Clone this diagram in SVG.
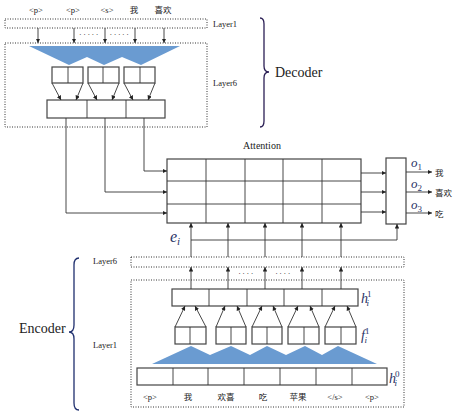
<svg xmlns="http://www.w3.org/2000/svg" width="459" height="416" viewBox="0 0 459 416">
<defs>
<marker id="ah" viewBox="0 0 6 6" refX="6" refY="3" markerWidth="4.5" markerHeight="4.5" markerUnits="userSpaceOnUse" orient="auto">
<path d="M0,0 L6,3 L0,6 z" fill="#222"/>
</marker>
<style>
.t{font-family:"Liberation Serif","Noto Sans CJK SC",serif;fill:#222;}
.sm{font-size:8.5px;}
.lb{font-size:14px;}
.m{font-family:"Liberation Serif",serif;font-style:italic;fill:#2a3366;}
.dot{fill:none;stroke:#333;stroke-width:1;stroke-dasharray:1 1.5;}
.box{fill:#fff;stroke:#444;stroke-width:1.2;}
.ln{fill:none;stroke:#333;stroke-width:0.9;}
.ar{fill:none;stroke:#333;stroke-width:0.9;marker-end:url(#ah);}
.blue{fill:#6a9bd1;}
.brace{fill:none;stroke-width:1.3;}
</style>
</defs>
<rect width="459" height="416" fill="#fff"/>

<g id="decoder">
<text class="t sm" x="36" y="13" text-anchor="middle">&lt;p&gt;</text>
<text class="t sm" x="73" y="13" text-anchor="middle">&lt;p&gt;</text>
<text class="t sm" x="107" y="13" text-anchor="middle">&lt;s&gt;</text>
<text class="t sm" x="134" y="13" text-anchor="middle">我</text>
<text class="t sm" x="163" y="13" text-anchor="middle">喜欢</text>
<rect class="dot" x="5" y="19" width="202" height="9"/>
<text class="t sm" x="213" y="27">Layer1</text>
<rect class="dot" x="5" y="43" width="202" height="84"/>
<text class="t sm" x="213" y="86">Layer6</text>
<polygon class="blue" points="29,46 180,46 141,65 122,57 104,65 87,57 69,65"/>
<g>
<rect class="box" x="52" y="67" width="31" height="16"/><line class="ln" x1="68" y1="67" x2="68" y2="83"/>
<rect class="box" x="88" y="67" width="31" height="16"/><line class="ln" x1="103" y1="67" x2="103" y2="83"/>
<rect class="box" x="124" y="67" width="31" height="16"/><line class="ln" x1="140" y1="67" x2="140" y2="83"/>
</g>
<rect class="box" x="47" y="100" width="118" height="18"/>
<line class="ln" x1="87" y1="100" x2="87" y2="118"/>
<line class="ln" x1="126" y1="100" x2="126" y2="118"/>
<path class="brace" stroke="#2b1f55" d="M260,18 Q264,18 264,24 L264,66 Q264,72 269,72 Q264,72 264,78 L264,121 Q264,127 260,127"/>
<text class="t lb" x="275" y="77">Decoder</text>
</g>

<g id="attention">
<text class="t" x="262" y="149" font-size="10" text-anchor="middle">Attention</text>
<rect class="box" x="167" y="159" width="194" height="64"/>
<line class="ln" x1="167" y1="181" x2="361" y2="181"/>
<line class="ln" x1="167" y1="204" x2="361" y2="204"/>
<line class="ln" x1="206" y1="159" x2="206" y2="223"/>
<line class="ln" x1="245" y1="159" x2="245" y2="223"/>
<line class="ln" x1="283" y1="159" x2="283" y2="223"/>
<line class="ln" x1="322" y1="159" x2="322" y2="223"/>
</g>

<g id="output">
<rect class="box" x="386" y="158" width="20" height="66"/>
<text class="m" x="411" y="167" font-size="13">o<tspan font-style="normal" font-size="9" dy="3">1</tspan></text>
<text class="m" x="411" y="188" font-size="13">o<tspan font-style="normal" font-size="9" dy="3">2</tspan></text>
<text class="m" x="411" y="209" font-size="13">o<tspan font-style="normal" font-size="9" dy="3">3</tspan></text>
<text class="t sm" x="435" y="176">我</text>
<text class="t sm" x="435" y="196">喜欢</text>
<text class="t sm" x="435" y="217">吃</text>
<text class="m" x="170" y="242" font-size="16">e<tspan font-size="11" dy="3">i</tspan></text>
</g>

<g id="encoder">
<rect class="dot" x="131" y="257" width="273" height="10"/>
<text class="t sm" x="93" y="264">Layer6</text>
<rect class="dot" x="131" y="280" width="273" height="127"/>
<text class="t sm" x="93" y="348">Layer1</text>
<rect class="box" x="172" y="289" width="186" height="17"/>
<line class="ln" x1="209" y1="289" x2="209" y2="306"/>
<line class="ln" x1="247" y1="289" x2="247" y2="306"/>
<line class="ln" x1="284" y1="289" x2="284" y2="306"/>
<line class="ln" x1="322" y1="289" x2="322" y2="306"/>
<text class="m" x="361" y="303" font-size="14">h<tspan font-style="normal" font-size="9" dx="-1" dy="-6">1</tspan><tspan font-size="9" dx="-5" dy="9">i</tspan></text>
<g>
<rect class="box" x="175" y="327" width="31" height="17"/><line class="ln" x1="190" y1="327" x2="190" y2="344"/>
<rect class="box" x="216" y="327" width="30" height="17"/><line class="ln" x1="231" y1="327" x2="231" y2="344"/>
<rect class="box" x="252" y="327" width="30" height="17"/><line class="ln" x1="267" y1="327" x2="267" y2="344"/>
<rect class="box" x="288" y="327" width="31" height="17"/><line class="ln" x1="304" y1="327" x2="304" y2="344"/>
<rect class="box" x="325" y="327" width="31" height="17"/><line class="ln" x1="341" y1="327" x2="341" y2="344"/>
</g>
<text class="m" x="361" y="340" font-size="14">f<tspan font-style="normal" font-size="9" dx="0" dy="-6">1</tspan><tspan font-size="9" dx="-5" dy="9">i</tspan></text>
<polygon class="blue" points="152,364 191,346 210,355 231,346 250,355 267,346 286,355 305,346 322,355 338,346 377,364"/>
<rect class="box" x="137" y="368" width="250" height="17"/>
<line class="ln" x1="173" y1="368" x2="173" y2="385"/>
<line class="ln" x1="208" y1="368" x2="208" y2="385"/>
<line class="ln" x1="244" y1="368" x2="244" y2="385"/>
<line class="ln" x1="280" y1="368" x2="280" y2="385"/>
<line class="ln" x1="316" y1="368" x2="316" y2="385"/>
<line class="ln" x1="352" y1="368" x2="352" y2="385"/>
<text class="m" x="389" y="383" font-size="14">h<tspan font-style="normal" font-size="9" dx="-1" dy="-6">0</tspan><tspan font-size="9" dx="-5" dy="9">i</tspan></text>
<text class="t sm" x="150" y="400" text-anchor="middle">&lt;p&gt;</text>
<text class="t sm" x="188" y="400" text-anchor="middle">我</text>
<text class="t sm" x="226" y="400" text-anchor="middle">欢喜</text>
<text class="t sm" x="263" y="400" text-anchor="middle">吃</text>
<text class="t sm" x="298" y="400" text-anchor="middle">苹果</text>
<text class="t sm" x="335" y="400" text-anchor="middle">&lt;/s&gt;</text>
<text class="t sm" x="372" y="400" text-anchor="middle">&lt;p&gt;</text>
<path class="brace" stroke="#1f2f6e" d="M79,258 Q74,258 74,265 L74,325 Q74,332 69,332 Q74,332 74,339 L74,403 Q74,410 79,410"/>
<text class="t lb" x="19" y="333">Encoder</text>
</g>

<g id="connectors">
<line class="ar" x1="38" y1="28" x2="38" y2="43"/>
<line class="ar" x1="74" y1="28" x2="74" y2="43"/>
<line class="ar" x1="105" y1="28" x2="105" y2="43"/>
<line class="ar" x1="135" y1="28" x2="135" y2="43"/>
<line class="ar" x1="164" y1="28" x2="164" y2="43"/>
<text class="t" x="89.5" y="37" font-size="8" text-anchor="middle" letter-spacing="1.5">·····</text>
<text class="t" x="120" y="37" font-size="8" text-anchor="middle" letter-spacing="1.5">·····</text>
<line class="ar" x1="52" y1="83" x2="61" y2="100"/>
<line class="ar" x1="83" y1="83" x2="76" y2="100"/>
<line class="ar" x1="88" y1="83" x2="97" y2="100"/>
<line class="ar" x1="119" y1="83" x2="112" y2="100"/>
<line class="ar" x1="124" y1="83" x2="133" y2="100"/>
<line class="ar" x1="155" y1="83" x2="148" y2="100"/>
<polyline class="ar" points="144,118 144,171 167,171"/>
<polyline class="ar" points="105,118 105,192 167,192"/>
<polyline class="ar" points="66,118 66,213 167,213"/>
<line class="ar" x1="361" y1="173" x2="386" y2="173"/>
<line class="ar" x1="361" y1="192" x2="386" y2="192"/>
<line class="ar" x1="361" y1="212" x2="386" y2="212"/>
<line class="ar" x1="406" y1="172" x2="432" y2="172"/>
<line class="ar" x1="406" y1="192" x2="432" y2="192"/>
<line class="ar" x1="406" y1="213" x2="432" y2="213"/>
<line class="ar" x1="191" y1="257" x2="191" y2="223"/>
<line class="ar" x1="228" y1="257" x2="228" y2="223"/>
<line class="ar" x1="265" y1="257" x2="265" y2="223"/>
<line class="ar" x1="302" y1="257" x2="302" y2="223"/>
<line class="ar" x1="341" y1="257" x2="341" y2="223"/>
<polyline class="ar" points="191,240 397,240 397,224"/>
<line class="ar" x1="191" y1="289" x2="191" y2="267"/>
<line class="ar" x1="228" y1="289" x2="228" y2="267"/>
<line class="ar" x1="265" y1="289" x2="265" y2="267"/>
<line class="ar" x1="302" y1="289" x2="302" y2="267"/>
<line class="ar" x1="341" y1="289" x2="341" y2="267"/>
<text class="t" x="246.5" y="276" font-size="8" text-anchor="middle" letter-spacing="1.5">····</text>
<text class="t" x="283.5" y="276" font-size="8" text-anchor="middle" letter-spacing="1.5">····</text>
<line class="ar" x1="175" y1="327" x2="185" y2="306"/>
<line class="ar" x1="206" y1="327" x2="195" y2="306"/>
<line class="ar" x1="216" y1="327" x2="225" y2="306"/>
<line class="ar" x1="246" y1="327" x2="237" y2="306"/>
<line class="ar" x1="252" y1="327" x2="262" y2="306"/>
<line class="ar" x1="282" y1="327" x2="273" y2="306"/>
<line class="ar" x1="288" y1="327" x2="298" y2="306"/>
<line class="ar" x1="319" y1="327" x2="310" y2="306"/>
<line class="ar" x1="325" y1="327" x2="335" y2="306"/>
<line class="ar" x1="356" y1="327" x2="347" y2="306"/>
</g>
</svg>
